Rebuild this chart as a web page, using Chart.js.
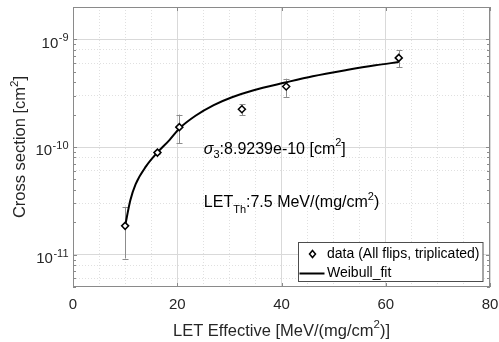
<!DOCTYPE html>
<html><head><meta charset="utf-8">
<script src="https://cdn.jsdelivr.net/npm/chart.js@4/dist/chart.umd.min.js"></script>
<style>html,body{margin:0;padding:0;background:#fff;overflow:hidden}canvas{display:block}</style>
</head><body>
<canvas id="c" width="499" height="342"></canvas>
<script>
// ---- data ----
const letData  = [10, 16.2, 20.4, 32.4, 40.9, 62.5];
const xsData   = [1.85e-11, 8.87e-11, 1.53e-10, 2.24e-10, 3.65e-10, 6.73e-10];
const errLow   = [9.2e-12, 8.6e-11, 1.09e-10, 1.97e-10, 2.92e-10, 5.54e-10];
const errHigh  = [2.78e-11, 9.2e-11, 2.0e-10, 2.49e-10, 4.32e-10, 7.98e-10];
const fitLET   = [10, 11, 12, 14, 16.2, 18.5, 20.5, 23.5, 27, 30.5, 34.5, 40.7, 46, 52.5, 58, 62.5];
const fitXS    = [1.85e-11, 3.2e-11, 4.5e-11, 6.6e-11, 8.9e-11, 1.16e-10, 1.5e-10, 1.95e-10, 2.45e-10, 2.9e-10, 3.35e-10, 3.97e-10, 4.55e-10, 5.2e-10, 5.75e-10, 6.15e-10];
const xTickLabels = [0, 20, 40, 60, 80];
const yMajorTicks = [1e-11, 1e-10, 1e-9];
const yTickExponents = ['-11', '-10', '-9'];
const seriesLabels = ['data (All flips, triplicated)', 'Weibull_fit'];
const xTitleParts = ['LET Effective [MeV/(mg/cm', '2', ')]'];
const yTitleParts = ['Cross section [cm', '2', ']'];
const sigmaText = ':8.9239e-10 [cm';
const letThText = ':7.5 MeV/(mg/cm';

// ---- derived ----
const scatterPts = letData.map((x, i) => ({x, y: xsData[i]}));
const fitPts = fitLET.map((x, i) => ({x, y: fitXS[i]}));
const yTickList = [];
[[5,6,7,8,9], [1,2,3,4,5,6,7,8,9], [1,2,3,4,5,6,7,8,9], [1,2]].forEach((muls, k) => {
  const dec = [1e-12, 1e-11, 1e-10, 1e-9][k];
  muls.forEach(m => yTickList.push(m * dec));
});

const FONT = '"Liberation Sans", Arial, Helvetica, sans-serif';
const TXT = '#262626';
const AXC = '#8a8a8a';

function isYMajor(v) { return yMajorTicks.some(t => Math.abs(v / t - 1) < 1e-6); }

const decor = {
  id: 'decor',
  beforeDatasetsDraw(chart) {
    const {ctx, scales: {x, y}} = chart;
    ctx.save();
    ctx.strokeStyle = '#8c8c8c';
    ctx.lineWidth = 1;
    letData.forEach((v, i) => {
      const px = Math.round(x.getPixelForValue(v)) + 0.5;
      const p1 = y.getPixelForValue(errLow[i]);
      const p2 = y.getPixelForValue(errHigh[i]);
      ctx.beginPath();
      ctx.moveTo(px, p1); ctx.lineTo(px, p2);
      ctx.moveTo(px - 3, Math.round(p1) + 0.5); ctx.lineTo(px + 3, Math.round(p1) + 0.5);
      ctx.moveTo(px - 3, Math.round(p2) + 0.5); ctx.lineTo(px + 3, Math.round(p2) + 0.5);
      ctx.stroke();
    });
    ctx.restore();
  },
  afterDatasetsDraw(chart) {
    const {ctx, chartArea: a, scales: {x, y}} = chart;
    ctx.save();
    // box
    ctx.strokeStyle = AXC; ctx.lineWidth = 1;
    ctx.strokeRect(Math.round(a.left) + 0.5, Math.round(a.top) + 0.5, Math.round(a.right - a.left) - 1, Math.round(a.bottom - a.top) - 1);
    // inward ticks
    ctx.beginPath();
    xTickLabels.forEach(v => {
      const px = Math.round(x.getPixelForValue(v)) + 0.5;
      ctx.moveTo(px, a.bottom); ctx.lineTo(px, a.bottom - 4);
      ctx.moveTo(px, a.top); ctx.lineTo(px, a.top + 4);
    });
    yTickList.forEach(v => {
      const py = Math.round(y.getPixelForValue(v)) + 0.5;
      const len = isYMajor(v) ? 4 : 3;
      ctx.moveTo(a.left, py); ctx.lineTo(a.left + len, py);
      ctx.moveTo(a.right, py); ctx.lineTo(a.right - len, py);
    });
    ctx.stroke();
    // y tick labels 10^n
    ctx.fillStyle = TXT;
    ctx.textBaseline = 'middle';
    yMajorTicks.forEach((v, i) => {
      const py = y.getPixelForValue(v);
      ctx.font = '15px ' + FONT;
      const w1 = ctx.measureText('10').width;
      ctx.font = '11px ' + FONT;
      const w2 = ctx.measureText(yTickExponents[i]).width;
      const x0 = a.left - 5 - w1 - w2;
      ctx.font = '15px ' + FONT;
      ctx.textAlign = 'left';
      ctx.fillText('10', x0, py + 4);
      ctx.font = '11px ' + FONT;
      ctx.fillText(yTickExponents[i], x0 + w1 + 0.5, py - 1);
    });
    function measureRuns(parts) {
      let w = 0;
      parts.forEach(([t, f]) => { ctx.font = f; w += ctx.measureText(t).width; });
      return w;
    }
    function runs(parts, x0, y0) {
      let cx = x0;
      parts.forEach(([t, f, dy]) => {
        ctx.font = f;
        ctx.fillText(t, cx, y0 + dy);
        cx += ctx.measureText(t).width;
      });
    }
    ctx.textAlign = 'left';
    // axis titles
    const xt = [[xTitleParts[0], '16.5px ' + FONT, 0], [xTitleParts[1], '11.5px ' + FONT, -6], [xTitleParts[2], '16.5px ' + FONT, 0]];
    const xtw = measureRuns(xt);
    ctx.fillStyle = TXT;
    runs(xt, (a.left + a.right) / 2 - xtw / 2, 331);
    const yt = [[yTitleParts[0], '16.5px ' + FONT, 0], [yTitleParts[1], '11.5px ' + FONT, -6], [yTitleParts[2], '16.5px ' + FONT, 0]];
    const ytw = measureRuns(yt);
    ctx.save();
    ctx.translate(20.5, (a.top + a.bottom) / 2);
    ctx.rotate(-Math.PI / 2);
    runs(yt, -ytw / 2, 0);
    ctx.restore();
    // annotations
    ctx.fillStyle = '#000';
    const ax = x.getPixelForValue(25.1);
    runs([
      ['\u03C3', 'italic 16px ' + FONT, 0],
      ['3', '11px ' + FONT, 6],
      [sigmaText, '16px ' + FONT, 0],
      ['2', '11px ' + FONT, -6],
      [']', '16px ' + FONT, 0]
    ], ax, y.getPixelForValue(9.5e-11));
    runs([
      ['LET', '16px ' + FONT, 0],
      ['Th', '11px ' + FONT, 7],
      [letThText, '16px ' + FONT, 0],
      ['2', '11px ' + FONT, -6],
      [')', '16px ' + FONT, 0]
    ], ax, y.getPixelForValue(3.05e-11));
    // legend
    ctx.font = '14px ' + FONT;
    const tw = Math.max(...seriesLabels.map(s => ctx.measureText(s).width));
    const lw = 29 + tw + 3, lh = 39;
    const lx = Math.round(a.right - 7 - lw) + 0.5, ly = Math.round(a.bottom - 6 - lh) + 0.5;
    ctx.fillStyle = '#fff';
    ctx.fillRect(lx, ly, lw, lh);
    ctx.strokeStyle = '#4d4d4d'; ctx.lineWidth = 1;
    ctx.strokeRect(lx, ly, lw, lh);
    const r1 = ly + 11.5, r2 = ly + 31;
    ctx.beginPath();
    ctx.moveTo(lx + 14, r1 - 3.5); ctx.lineTo(lx + 17, r1); ctx.lineTo(lx + 14, r1 + 3.5); ctx.lineTo(lx + 11, r1); ctx.closePath();
    ctx.fillStyle = '#fff'; ctx.fill();
    ctx.strokeStyle = '#000'; ctx.lineWidth = 1.5; ctx.stroke();
    ctx.beginPath(); ctx.moveTo(lx + 1, r2); ctx.lineTo(lx + 26, r2); ctx.lineWidth = 2; ctx.stroke();
    ctx.fillStyle = '#000';
    ctx.textBaseline = 'middle';
    ctx.font = '14px ' + FONT;
    ctx.fillText(seriesLabels[0], lx + 28.5, r1);
    ctx.fillText(seriesLabels[1], lx + 28.5, r2);
    ctx.restore();
  }
};

new Chart(document.getElementById('c'), {
  type: 'line',
  data: {
    datasets: [
      {
        label: seriesLabels[0], data: scatterPts, showLine: false,
        pointStyle: 'rectRot', pointRadius: 3.5, pointBorderWidth: 1.5,
        pointBorderColor: '#000', pointBackgroundColor: '#fff'
      },
      {
        label: seriesLabels[1], data: fitPts, borderColor: '#000', borderWidth: 2,
        pointRadius: 0, cubicInterpolationMode: 'monotone', fill: false
      }
    ]
  },
  options: {
    responsive: false, animation: false, devicePixelRatio: 1,
    layout: {padding: {left: 0, right: 9, top: 7, bottom: 0}},
    plugins: {legend: {display: false}, tooltip: {enabled: false}},
    scales: {
      x: {
        type: 'linear', min: 0, max: 80,
        afterFit: s => { s.height = 55; s.paddingLeft = 0; s.paddingRight = 0; },
        ticks: {stepSize: 5, autoSkip: false, maxRotation: 0, padding: 9,
          color: TXT, font: {family: FONT, size: 15},
          callback: v => (xTickLabels.includes(v) ? String(v) : '')},
        grid: {drawTicks: false,
          color: c => (c.tick && xTickLabels.includes(c.tick.value)) ? '#d9d9d9' : '#e0e0e0'},
        border: {display: false,
          dash: c => (c.tick && !xTickLabels.includes(c.tick.value)) ? [1, 2] : []},
        title: {display: false}
      },
      y: {
        type: 'logarithmic', min: 5e-12, max: 2e-9,
        afterFit: s => { s.width = 73; s.paddingTop = 0; s.paddingBottom = 0; },
        afterBuildTicks: s => { s.ticks = yTickList.map(v => ({value: v, major: isYMajor(v)})); },
        ticks: {callback: () => '', font: {family: FONT, size: 15}},
        grid: {drawTicks: false,
          color: c => (c.tick && isYMajor(c.tick.value)) ? '#d9d9d9' : '#e0e0e0'},
        border: {display: false,
          dash: c => (c.tick && !isYMajor(c.tick.value)) ? [1, 2] : []},
        title: {display: false}
      }
    }
  },
  plugins: [decor]
});
</script>
</body></html>
